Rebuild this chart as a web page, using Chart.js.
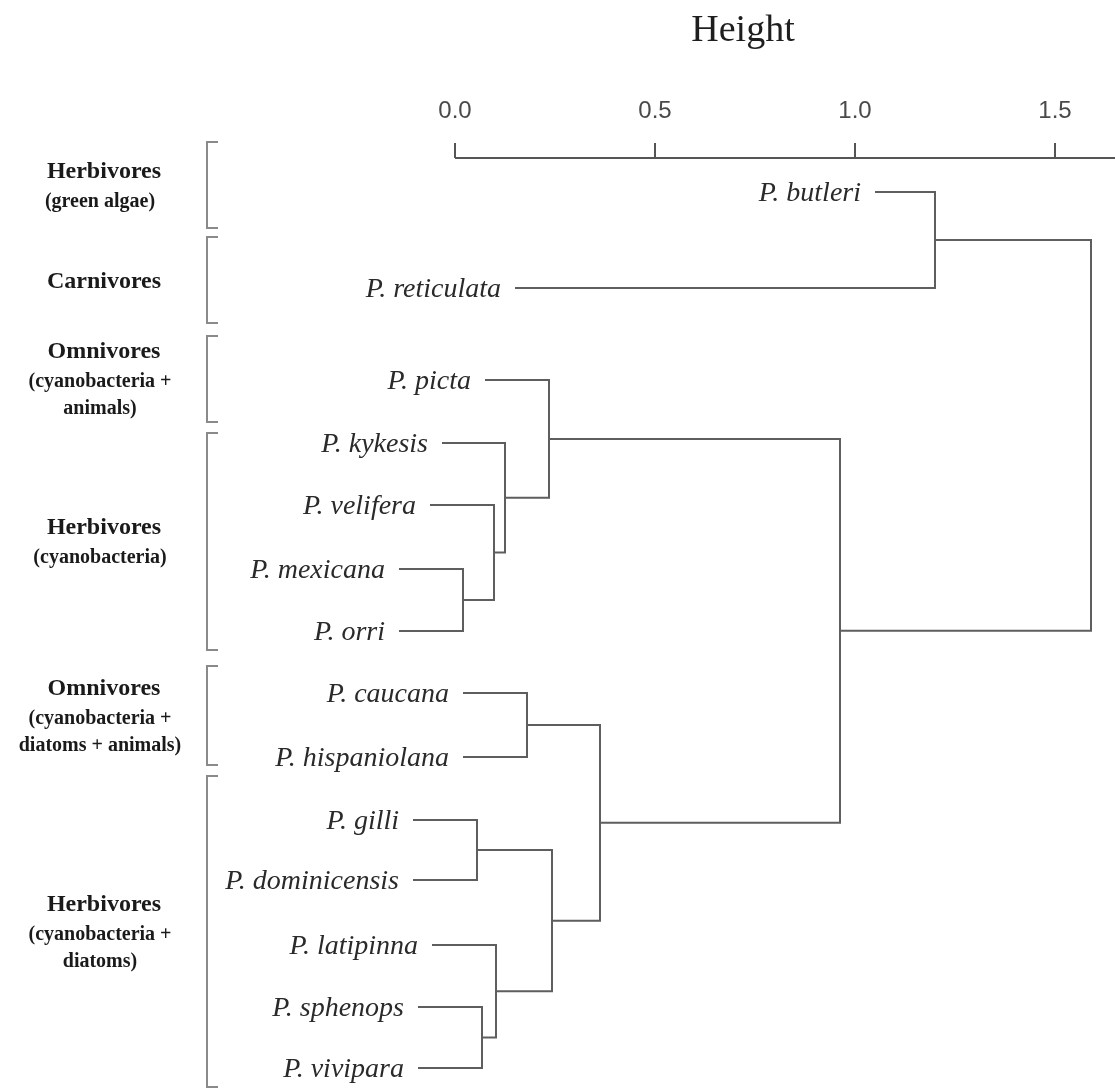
<!DOCTYPE html>
<html lang="en">
<head>
	<meta charset="UTF-8">
	<title>Poecilia dendrogram</title>
	<script src="https://cdn.jsdelivr.net/npm/chart.js@4.4.1/dist/chart.umd.min.js"></script>
	<style>
		body { margin: 0; background: #fff; }
	</style>
</head>
<body>
<canvas id="dendro" width="1115" height="1089"></canvas>

<script>

// leaves, top to bottom
var leafNames = ['P. butleri', 'P. reticulata', 'P. picta', 'P. kykesis', 'P. velifera',
	'P. mexicana', 'P. orri', 'P. caucana', 'P. hispaniolana', 'P. gilli',
	'P. dominicensis', 'P. latipinna', 'P. sphenops', 'P. vivipara'];
var leafRow = [192, 288, 380, 443, 505, 569, 631, 693, 757, 820, 880, 945, 1007, 1068];
// height where each leaf line begins
var leafHang = [1.05, 0.15, 0.075, -0.0325, -0.0625, -0.14, -0.14, 0.02, 0.02,
	-0.105, -0.105, -0.0575, -0.0925, -0.0925];

// merge table like hclust: negative = leaf number, positive = earlier merge
var mergeLeft   = [-6, -10, -13, -5, -12, -4, -8, -3, 2, 7, 8, -1, 12];
var mergeRight  = [-7, -11, -14, 1, 3, 4, -9, 6, 5, 9, 10, -2, 11];
var mergeHeight = [0.02, 0.055, 0.0675, 0.0975, 0.1025, 0.125, 0.18, 0.235, 0.2425, 0.3625, 0.9625, 1.2, 1.59];

var heightTicks = [0, 0.5, 1.0, 1.5];

// diet groups on the left
var groupTitles = ['Herbivores', 'Carnivores', 'Omnivores', 'Herbivores', 'Omnivores', 'Herbivores'];
var groupSubtitles = [
	['(green algae)'],
	[],
	['(cyanobacteria +', 'animals)'],
	['(cyanobacteria)'],
	['(cyanobacteria +', 'diatoms + animals)'],
	['(cyanobacteria +', 'diatoms)']
];
var groupTop    = [142, 237, 336, 433, 666, 776];
var groupBottom = [228, 323, 422, 650, 765, 1087];

var lineColor = '#5e5e5e';

// work out node rows and build one dataset per merge
var nodeRow = [];
function childPos(id) {
	if (id < 0) return { x: leafHang[-id - 1], y: leafRow[-id - 1] };
	return { x: mergeHeight[id - 1], y: nodeRow[id - 1] };
}
var datasets = [];
for (let i = 0; i < mergeHeight.length; i++) {
	var a = childPos(mergeLeft[i]);
	var b = childPos(mergeRight[i]);
	var h = mergeHeight[i];
	nodeRow.push((a.y + b.y) / 2);
	datasets.push({
		data: [{ x: a.x, y: a.y }, { x: h, y: a.y }, { x: h, y: b.y }, { x: b.x, y: b.y }],
		showLine: true,
		borderColor: lineColor,
		borderWidth: 2,
		pointRadius: 0,
		tension: 0,
		fill: false,
		clip: false
	});
}

// text, brackets and axis line
var overlay = {
	id: 'overlay',
	afterDraw: function(chart) {
		var ctx = chart.ctx;
		var xs = chart.scales.x;
		var ys = chart.scales.y;
		var area = chart.chartArea;
		ctx.save();

		// axis line only over the positive range
		ctx.strokeStyle = '#555';
		ctx.lineWidth = 2;
		ctx.beginPath();
		ctx.moveTo(xs.getPixelForValue(0), area.top);
		ctx.lineTo(area.right, area.top);
		ctx.stroke();

		// axis title
		ctx.fillStyle = '#1e1e1e';
		ctx.font = '38px "Liberation Serif", "Times New Roman", serif';
		ctx.textAlign = 'center';
		ctx.textBaseline = 'alphabetic';
		ctx.fillText('Height', xs.getPixelForValue(0.72), 41);

		// species labels
		ctx.font = 'italic 28px "Liberation Serif", "Times New Roman", serif';
		ctx.textAlign = 'right';
		ctx.fillStyle = '#2a2a2a';
		for (let i = 0; i < leafNames.length; i++) {
			ctx.fillText(leafNames[i], xs.getPixelForValue(leafHang[i]) - 14, ys.getPixelForValue(leafRow[i]) + 9);
		}

		// group brackets
		ctx.strokeStyle = '#8a8a8a';
		ctx.lineWidth = 2;
		for (let g = 0; g < groupTitles.length; g++) {
			var t = ys.getPixelForValue(groupTop[g]);
			var bt = ys.getPixelForValue(groupBottom[g]);
			ctx.beginPath();
			ctx.moveTo(218, t);
			ctx.lineTo(207, t);
			ctx.lineTo(207, bt);
			ctx.lineTo(218, bt);
			ctx.stroke();

			// group labels, centred on the bracket
			var subs = groupSubtitles[g];
			var span = subs.length ? 31 + 27 * (subs.length - 1) : 0;
			var cy = (t + bt) / 2 - span / 2;
			ctx.textAlign = 'center';
			ctx.fillStyle = '#1a1a1a';
			ctx.font = 'bold 24px "Liberation Serif", "Times New Roman", serif';
			ctx.fillText(groupTitles[g], 104, cy + 8);
			ctx.font = 'bold 20px "Liberation Serif", "Times New Roman", serif';
			for (let k = 0; k < subs.length; k++) {
				ctx.fillText(subs[k], 100, cy + 31 + 27 * k + 6);
			}
		}
		ctx.restore();
	}
};

new Chart(document.getElementById('dendro').getContext('2d'), {
	type: 'scatter',
	data: { datasets: datasets },
	options: {
		responsive: false,
		animation: false,
		layout: { padding: 0 },
		plugins: {
			legend: { display: false },
			title: { display: false },
			tooltip: { enabled: false }
		},
		scales: {
			x: {
				type: 'linear',
				position: 'top',
				min: -1.1375,
				max: 1.65,
				afterBuildTicks: function(scale) {
					scale.ticks = heightTicks.map(function(v) { return { value: v }; });
				},
				afterFit: function(scale) {
					scale.height = 158;
				},
				ticks: {
					padding: 17,
					color: '#4a4a4a',
					font: { family: '"Liberation Sans", Arial, sans-serif', size: 24 },
					maxRotation: 0,
					autoSkip: false,
					callback: function(v) { return v.toFixed(1); }
				},
				grid: {
					drawOnChartArea: false,
					drawTicks: true,
					tickLength: 15,
					color: '#555',
					lineWidth: 2
				},
				border: { display: false }
			},
			y: {
				type: 'linear',
				display: false,
				reverse: true,
				min: 158,
				max: 1089
			}
		}
	},
	plugins: [overlay]
});
</script>
</body>
</html>
